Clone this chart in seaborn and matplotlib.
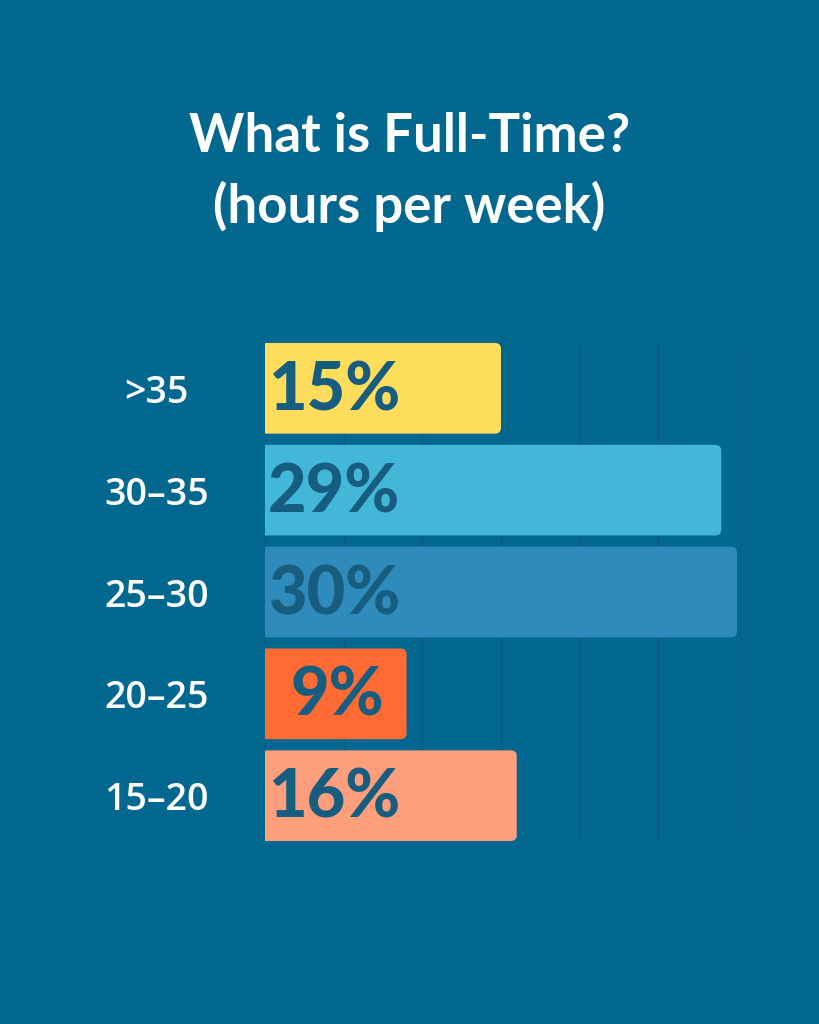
import matplotlib
matplotlib.use("Agg")
import matplotlib.pyplot as plt
import seaborn as sns
import pandas as pd
from matplotlib.patches import FancyBboxPatch

# data
categories = [">35", "30–35", "25–30", "20–25", "15–20"]
values = [15, 29, 30, 9, 16]
value_labels = ["15%", "29%", "30%", "9%", "16%"]
bar_colors = ["#FFDD5C", "#42B7D8", "#2E8BBB", "#FF6B33", "#FF9E7A"]
title = "What is Full-Time?\n(hours per week)"

bg = "#02688F"
label_dark = "#175D80"

sns.set_style("white")
plt.rcParams["font.family"] = ["Lato", "DejaVu Sans"]

df = pd.DataFrame({"hours": categories, "pct": values})

fig = plt.figure(figsize=(8.19, 10.24), dpi=100, facecolor=bg)
ax = fig.add_axes([265 / 819, 1 - 841 / 1024, (737 - 265) / 819, (841 - 343) / 1024])
ax.set_facecolor(bg)

sns.barplot(data=df, x="pct", y="hours", hue="hours", palette=bar_colors,
            legend=False, width=0.89, ax=ax, saturation=1)

ax.set_xlim(0, 30)
ax.set_ylim(4.445, -0.445)
ax.set_xticks([0, 5, 10, 15, 20, 25, 30])
ax.xaxis.grid(True, color="#0A5C7E", lw=1)
ax.set_axisbelow(True)
for s in ax.spines.values():
    s.set_visible(False)
ax.set_xlabel("")
ax.set_ylabel("")
ax.tick_params(axis="x", length=0, labelbottom=False)
ax.tick_params(axis="y", length=0, pad=78, labelcolor="white")
for t in ax.get_yticklabels():
    t.set_ha("center")
    t.set_family(["Open Sans", "DejaVu Sans"])
    t.set_fontsize(27)
    t.set_fontweight("semibold")

# rounded right ends, square left ends (clipped by the axes)
px_x = 30 / (737 - 265)
px_y = 4.89 / (841 - 343)
r = 6 * px_x
for p in list(ax.patches):
    x, y, w, h = p.get_x(), p.get_y(), p.get_width(), p.get_height()
    fb = FancyBboxPatch((x - 2 * r, y), w + 2 * r, h,
                        boxstyle=f"round,pad=0,rounding_size={r}",
                        mutation_aspect=px_y / px_x,
                        fc=p.get_facecolor(), ec="none", zorder=2)
    ax.add_patch(fb)
    p.set_visible(False)

for i, (v, lab) in enumerate(zip(values, value_labels)):
    xoff = 1.6 if v < 10 else 0.2
    ax.text(xoff, i + 0.03, lab, ha="left", va="center", color=label_dark,
            fontsize=48, fontweight="black", zorder=3)

fig.text(0.5, 1 - 172 / 1024, title, ha="center", va="center", color="white",
         fontsize=38, fontweight="bold", linespacing=1.45)

fig.savefig("out.png", dpi=100, facecolor=bg)
